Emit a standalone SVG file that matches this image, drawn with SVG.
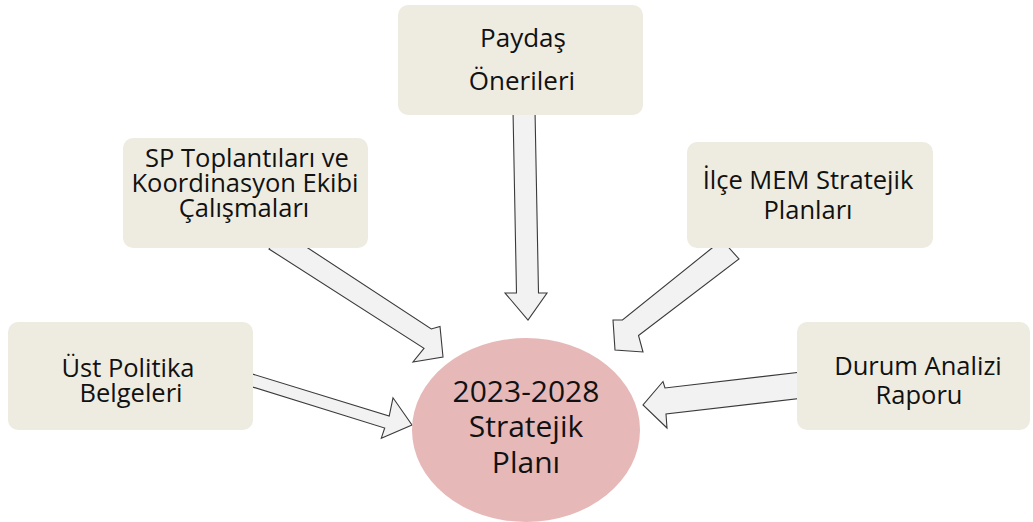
<svg xmlns="http://www.w3.org/2000/svg" width="1033" height="522" viewBox="0 0 1033 522">
<style>
.box{fill:#eeece1;}
.arrow{fill:#f2f2f2;stroke:#3a3a3a;stroke-width:1.1;stroke-linejoin:miter;}
.t{font-family:"Open Sans","Liberation Sans",sans-serif;fill:#111;text-anchor:middle;}
.s{font-size:25.5px;}
.big{font-size:30px;}
</style>
<rect width="1033" height="522" fill="#ffffff"/>
<g id="connectors">
<polygon class="arrow" points="241.0,370.5 389.2,416.0 393.0,397.8 412.0,425.0 381.3,438.2 384.7,428.0 237.4,382.3"/>
<polygon class="arrow" points="282.0,231.0 431.3,329.0 440.0,326.5 443.0,357.0 413.0,362.0 424.0,348.3 269.0,249.0"/>
<polygon class="arrow" points="513,110 516.5,293 505,293 528,320 547,293 538.5,293 535,110"/>
<polygon class="arrow" points="722,240 622.5,320 613,320 615,350 643,352 638.5,335.5 739,259"/>
<polygon class="arrow" points="810,371 665,388 663,381.5 643,405 667,428 666,414 812,397"/>
</g>
<g id="n-paydas">
<rect class="box" x="398" y="5" width="245" height="110" rx="10"/>
<text class="t s" x="522" y="47" style="font-size:26px"><tspan x="523" y="47">Paydaş</tspan><tspan x="522" y="90">Önerileri</tspan></text>
</g>
<g id="n-sp">
<rect class="box" x="123" y="138" width="245" height="110" rx="10"/>
<text class="t s" x="246" y="167"><tspan x="247" y="167">SP Toplantıları ve</tspan><tspan x="245" y="192">Koordinasyon Ekibi</tspan><tspan x="244" y="217">Çalışmaları</tspan></text>
</g>
<g id="n-ilce">
<rect class="box" x="687" y="142" width="246" height="106" rx="10"/>
<text class="t s" x="808" y="189"><tspan x="808" y="189">İlçe MEM Stratejik</tspan><tspan x="808" y="219">Planları</tspan></text>
</g>
<g id="n-ust">
<rect class="box" x="8" y="322" width="245" height="108" rx="10"/>
<text class="t s" x="129" y="377"><tspan x="128" y="377">Üst Politika</tspan><tspan x="131" y="402">Belgeleri</tspan></text>
</g>
<g id="n-durum">
<rect class="box" x="797" y="322" width="233" height="108" rx="10"/>
<text class="t s" x="918" y="375"><tspan x="918" y="375">Durum Analizi</tspan><tspan x="919" y="404">Raporu</tspan></text>
</g>
<g id="n-center">
<ellipse cx="526" cy="430" rx="114" ry="92" fill="#e6b9b8"/>
<text class="t big" x="526" y="402"><tspan x="526" y="402">2023-2028</tspan><tspan x="526" y="437">Stratejik</tspan><tspan x="526" y="473">Planı</tspan></text>
</g>
</svg>
